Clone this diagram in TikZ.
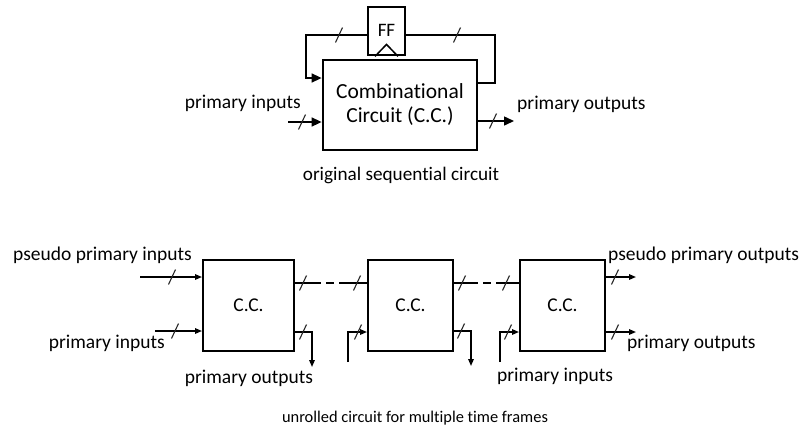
\documentclass[tikz,border=0pt]{standalone}
\usepackage{fontspec}
\setmainfont{Carlito}[Ligatures=NoCommon]
\usetikzlibrary{arrows.meta}
\begin{document}
\begin{tikzpicture}[x=1pt,y=-1pt,
  thickbox/.style={draw, line width=2.8pt, inner sep=0pt},
  ccbox/.style={draw, line width=2pt, inner sep=0pt, minimum height=91pt, font=\fontsize{19.5}{22}\selectfont},
  wire/.style={line width=1.5pt},
  bigarrow/.style={wire, -{Triangle[length=10pt,width=9pt]}},
  smallarrow/.style={wire, -{Triangle[length=7pt,width=5.5pt]}},
  lbl/.style={inner sep=0pt, font=\fontsize{19.5}{22}\selectfont},
  captext/.style={inner sep=0pt, font=\fontsize{16.4}{19}\selectfont},
  slash/.pic={\draw[line width=1.1pt, black!85] (-3.5,7.5) -- (3.5,-7.5);}
]
\useasboundingbox (0,0) rectangle (799,432);

% ---------- original sequential circuit ----------
\node[thickbox, minimum width=154pt, minimum height=90pt, align=center,
      font=\fontsize{21.5}{24}\selectfont] (cc) at (400,105) {Combinational\\Circuit (C.C.)};
\node[thickbox, minimum width=37pt, minimum height=48pt] (ff) at (386.5,31) {};
\node[inner sep=0pt, font=\fontsize{19}{22}\selectfont] (fftext) at (386.5,30.5) {FF};
\draw[line width=1.5pt] ([xshift=-11.5pt]ff.south) -- ([yshift=12pt]ff.south) -- ([xshift=11.5pt]ff.south);

\coordinate (fbl) at (306,35);
\coordinate (fbr) at (495,35);
\draw[bigarrow] (fbl -| ff.west) -- (fbl) |- (cc.west |- 0,78);
\draw[wire] (fbr -| ff.east) -- (fbr) |- (cc.east |- 0,83);
\pic at (339,35) {slash};
\pic at (457,35) {slash};

\coordinate (pin) at (288,122);
\draw[bigarrow] (pin) -- (pin -| cc.west);
\pic at (302,122) {slash};
\node[lbl, anchor=east] (pinl) at (301,103) {primary inputs};

\coordinate (pout) at (514,121);
\draw[bigarrow] (pout -| cc.east) -- (pout);
\pic at (493,121) {slash};
\node[lbl, anchor=west] (poutl) at (517,104) {primary outputs};

\node[captext, font=\fontsize{19.2}{22}\selectfont] (cap1) at (401,175) {original sequential circuit};

% ---------- unrolled circuit ----------
\node[ccbox, minimum width=91pt] (b1) at (248.5,305) {C.C.};
\node[ccbox, minimum width=85pt] (b2) at (410.5,305) {C.C.};
\node[ccbox, minimum width=85pt] (b3) at (562.5,305) {C.C.};

% box 1 inputs
\coordinate (ppi) at (140,277);
\draw[smallarrow] (ppi) -- (ppi -| b1.west);
\pic at (172,277) {slash};
\node[lbl, anchor=west] (ppil) at (13,255) {pseudo primary inputs};

\coordinate (pi1) at (155,331);
\draw[smallarrow] (pi1) -- (pi1 -| b1.west);
\pic at (175,331) {slash};
\node[lbl, anchor=east] (pi1l) at (165,343) {primary inputs};

% box1 -> box2
\coordinate (d1a) at (313,283);
\coordinate (d1b) at (347,283);
\draw[wire] (d1a -| b1.east) -- (d1a);
\draw[wire, dash pattern=on 8pt off 5pt] (d1a) -- (d1b);
\draw[wire] (d1b) -- (d1b -| b2.west);
\pic at (303,283) {slash};
\pic at (357,283) {slash};

% box1 primary outputs
\coordinate (po1) at (312,367);
\draw[smallarrow] (b1.east |- 0,332) -| (po1);
\pic at (303,332) {slash};
\node[lbl, anchor=center] (po1l) at (249,378) {primary outputs};

% box2 primary inputs
\coordinate (pi2) at (348,362);
\draw[smallarrow] (pi2) |- (b2.west |- 0,332);
\pic at (358,332) {slash};

% box2 -> box3
\coordinate (d2a) at (470,283);
\coordinate (d2b) at (497,283);
\draw[wire] (d2a -| b2.east) -- (d2a);
\draw[wire, dash pattern=on 8pt off 5pt] (d2a) -- (d2b);
\draw[wire] (d2b) -- (d2b -| b3.west);
\pic at (462,283) {slash};
\pic at (506,283) {slash};

% box2 primary outputs
\coordinate (po2) at (471,366);
\draw[smallarrow] (b2.east |- 0,331) -| (po2);
\pic at (461,331) {slash};

% box3 primary inputs
\coordinate (pi3) at (500,362);
\draw[smallarrow] (pi3) |- (b3.west |- 0,332);
\pic at (508,332) {slash};
\node[lbl, anchor=center] (pi3l) at (555,376) {primary inputs};

% box3 outputs
\coordinate (ppo) at (636,277);
\draw[smallarrow] (ppo -| b3.east) -- (ppo);
\pic at (615,277) {slash};
\node[lbl, anchor=west] (ppol) at (608,255) {pseudo primary outputs};

\coordinate (po3) at (636,332);
\draw[smallarrow] (po3 -| b3.east) -- (po3);
\pic at (615,332) {slash};
\node[lbl, anchor=west] (po3l) at (627,343) {primary outputs};

\node[captext] (cap2) at (415,418) {unrolled circuit for multiple time frames};
\end{tikzpicture}
\end{document}
